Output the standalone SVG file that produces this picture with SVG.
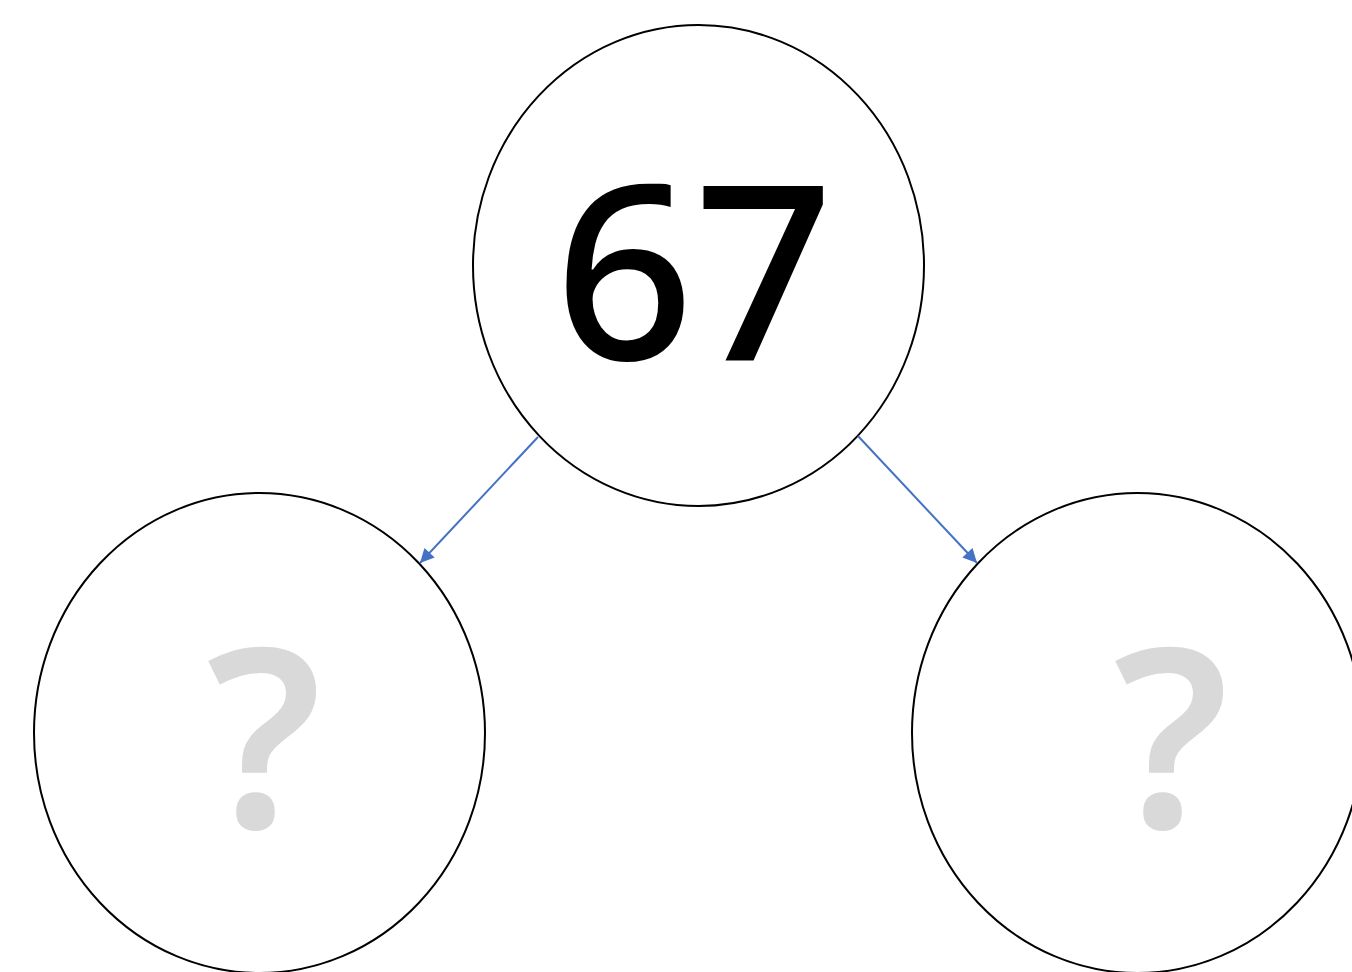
<svg xmlns="http://www.w3.org/2000/svg" width="1352" height="972" viewBox="0 0 1352 972">
<style>
.node{fill:#ffffff;stroke:#000000;stroke-width:2}
.num{font-family:"Noto Sans","Open Sans",sans-serif;font-size:244px;fill:#000000;text-anchor:middle;font-weight:500}
.q{font-family:"Noto Sans","Open Sans",sans-serif;font-size:250px;fill:#d9d9d9;text-anchor:middle;font-weight:600}
.conn{stroke:#4472c4;stroke-width:2;fill:none;marker-end:url(#arr)}
</style>
<defs>
<marker id="arr" viewBox="0 0 10 10" refX="10" refY="5" markerWidth="8" markerHeight="7" markerUnits="strokeWidth" orient="auto">
<path d="M0,0 L10,5 L0,10 z" fill="#4472c4"/>
</marker>
</defs>
<rect width="1352" height="972" fill="#ffffff"/>
<g id="node-67">
<ellipse class="node" cx="698.5" cy="265.5" rx="225.5" ry="240.5"/>
<text class="num" x="694" y="360">67</text>
</g>
<g id="node-left">
<ellipse class="node" cx="259.5" cy="733" rx="225.5" ry="240"/>
<text class="q" x="264" y="828">?</text>
</g>
<g id="node-right">
<ellipse class="node" cx="1137.5" cy="733" rx="225.5" ry="240"/>
<text class="q" x="1171" y="828">?</text>
</g>
<g id="connectors">
<line class="conn" x1="538" y1="437" x2="420" y2="563"/>
<line class="conn" x1="858" y1="436" x2="977" y2="563"/>
</g>
</svg>
